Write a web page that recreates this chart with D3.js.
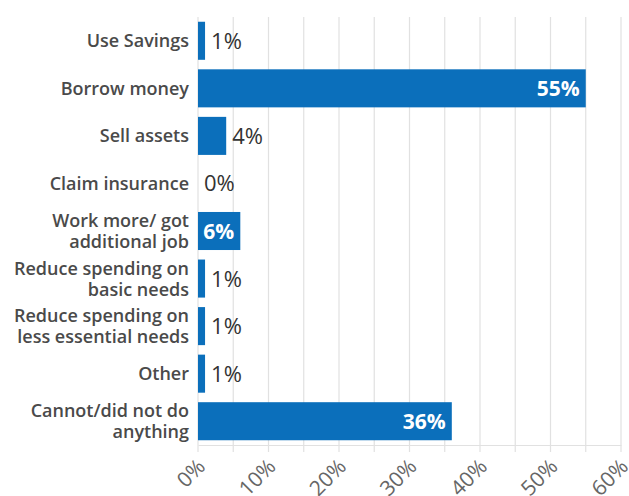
<!DOCTYPE html>
<html><head><meta charset="utf-8">
<script src="https://cdn.jsdelivr.net/npm/d3@7"></script>
<style>body{margin:0;background:#fff}svg{display:block}</style>
</head><body>
<svg id="chart" width="629" height="496"></svg>
<script>
const categories = [
  ["Use Savings"],
  ["Borrow money"],
  ["Sell assets"],
  ["Claim insurance"],
  ["Work more/ got", "additional job"],
  ["Reduce spending on", "basic needs"],
  ["Reduce spending on", "less essential needs"],
  ["Other"],
  ["Cannot/did not do", "anything"]
];
const values = [1, 55, 4, 0, 6, 1, 1, 1, 36];
const xTicks = [0, 10, 20, 30, 40, 50, 60];
const gridTicks = [0, 5, 10, 15, 20, 25, 30, 35, 40, 45, 50, 55, 60];
const insideThreshold = 6;

const W = 629, H = 496;
const m = {left: 198, right: 8, top: 17, bottom: 51};
const svg = d3.select("#chart");
const FONT = "'Open Sans', sans-serif";

const x = d3.scaleLinear().domain([0, 60]).range([m.left, W - m.right]);
const y = d3.scaleBand().domain(d3.range(categories.length))
  .range([m.top, H - m.bottom]).paddingInner(0.2).paddingOuter(0.1);

// gridlines
svg.append("g").selectAll("line").data(gridTicks).join("line")
  .attr("x1", d => x(d)).attr("x2", d => x(d))
  .attr("y1", m.top).attr("y2", H - m.bottom + 7)
  .attr("stroke", "#e1e1e1").attr("stroke-width", 1.2);

// x axis
const xAxis = svg.append("g").attr("transform", `translate(0,${H - m.bottom})`)
  .call(d3.axisBottom(x).tickValues(xTicks).tickFormat(d => d + "%").tickSize(0).tickPadding(0));
xAxis.select(".domain").attr("stroke", "#e1e1e1").attr("stroke-width", 1.2);
xAxis.selectAll("text")
  .attr("font-family", FONT).attr("font-size", 21).attr("fill", "#666")
  .attr("text-anchor", "end").attr("dy", null).attr("y", 0)
  .attr("transform", "translate(8,23) rotate(-45)");

// bars
svg.append("g").selectAll("rect").data(values).join("rect")
  .attr("x", x(0)).attr("y", (d, i) => y(i))
  .attr("width", d => x(d) - x(0)).attr("height", y.bandwidth())
  .attr("fill", "#0b6fbb");

// category labels
const lab = svg.append("g").selectAll("text").data(categories).join("text")
  .attr("font-family", FONT).attr("font-size", 18).attr("font-weight", 600)
  .attr("fill", "#4a4a4a").attr("text-anchor", "end");
lab.each(function(lines, i) {
  const t = d3.select(this);
  const lh = 21;
  const cy = y(i) + y.bandwidth() / 2;
  const y0 = cy - (lines.length - 1) * lh / 2 + 6.5;
  lines.forEach((s, k) => t.append("tspan").attr("x", m.left - 9).attr("y", y0 + k * lh).text(s));
});

// value labels
svg.append("g").selectAll("text").data(values).join("text")
  .attr("font-family", FONT)
  .attr("font-size", d => d >= insideThreshold ? 21 : 22)
  .attr("font-weight", d => d >= insideThreshold ? 700 : 400)
  .attr("fill", d => d >= insideThreshold ? "#fff" : "#333")
  .attr("text-anchor", d => d >= insideThreshold ? "end" : "start")
  .attr("x", d => d >= insideThreshold ? x(d) - 6 : x(d) + 6)
  .attr("y", (d, i) => y(i) + y.bandwidth() / 2 + 8)
  .text(d => d + "%");
</script>
</body></html>
